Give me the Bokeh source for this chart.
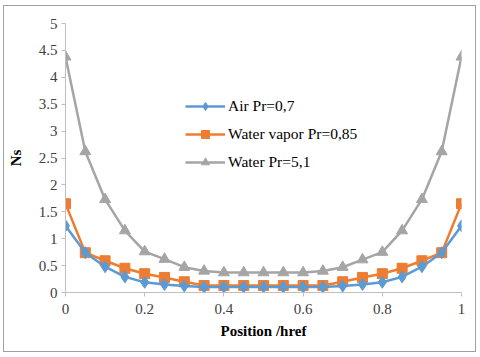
from bokeh.plotting import figure
from bokeh.embed import file_html
from bokeh.resources import INLINE
from bokeh.models import Legend, LegendItem, FixedTicker, Range1d

position = [0.0, 0.05, 0.1, 0.15, 0.2, 0.25, 0.3, 0.35, 0.4, 0.45, 0.5,
            0.55, 0.6, 0.65, 0.7, 0.75, 0.8, 0.85, 0.9, 0.95, 1.0]
air = [1.24, 0.74, 0.48, 0.29, 0.19, 0.15, 0.12, 0.10, 0.10, 0.10, 0.10,
       0.10, 0.10, 0.10, 0.12, 0.15, 0.19, 0.29, 0.48, 0.74, 1.24]
vapor = [1.65, 0.74, 0.59, 0.45, 0.35, 0.28, 0.20, 0.13, 0.13, 0.13, 0.13,
         0.13, 0.13, 0.13, 0.20, 0.28, 0.35, 0.45, 0.59, 0.74, 1.65]
water = [4.38, 2.62, 1.73, 1.15, 0.76, 0.62, 0.47, 0.40, 0.37, 0.37, 0.37,
         0.37, 0.37, 0.40, 0.47, 0.61, 0.75, 1.15, 1.73, 2.62, 4.38]
labels = ["Air Pr=0,7", "Water vapor Pr=0,85", "Water Pr=5,1"]
x_ticks = [0, 0.2, 0.4, 0.6, 0.8, 1]
y_ticks = [0, 0.5, 1, 1.5, 2, 2.5, 3, 3.5, 4, 4.5, 5]

FONT = "Liberation Serif"

p = figure(width=473, height=347, output_backend="svg", toolbar_location=None,
           x_range=Range1d(0, 1), y_range=Range1d(0, 5),
           min_border_left=61, min_border_right=16, min_border_top=17,
           min_border_bottom=61)
p.styles = {"border": "1px solid #a0a0a0", "margin-left": "3px", "margin-top": "5px"}
p.outline_line_color = None
p.xgrid.grid_line_color = None
p.ygrid.grid_line_color = None

p.xaxis.ticker = FixedTicker(ticks=x_ticks)
p.yaxis.ticker = FixedTicker(ticks=y_ticks)
for ax in (p.xaxis[0], p.yaxis[0]):
    ax.axis_line_color = "#bfbfbf"
    ax.axis_line_width = 1
    ax.major_label_text_font = FONT
    ax.major_label_text_font_size = "15px"
    ax.major_label_text_color = "#404040"
    ax.minor_tick_line_color = None
    ax.major_tick_line_color = "#bfbfbf"
    ax.major_tick_out = 4
    ax.major_tick_in = 0
    ax.axis_label_text_font = FONT
    ax.axis_label_text_font_size = "15px"
    ax.axis_label_text_font_style = "bold"
    ax.axis_label_text_color = "#000000"
p.xaxis.major_label_standoff = 7
p.yaxis.major_label_standoff = 4
p.xaxis.axis_label = "Position /href"
p.yaxis.axis_label = "Ns"
p.xaxis.axis_label_standoff = 6
p.yaxis.axis_label_standoff = 12

c_air, c_vap, c_wat = "#5B9BD5", "#ED7D31", "#A5A5A5"

l3 = p.line(position, water, line_color=c_wat, line_width=2.5)
m3 = p.scatter(position, water, marker="triangle", size=11, fill_color=c_wat, line_color=c_wat)
l2 = p.line(position, vapor, line_color=c_vap, line_width=2.5)
m2 = p.scatter(position, vapor, marker="square", size=10, fill_color=c_vap, line_color=c_vap)
l1 = p.line(position, air, line_color=c_air, line_width=2.5)
m1 = p.scatter(position, air, marker="diamond", size=12, fill_color=c_air, line_color=c_air)

legend = Legend(items=[LegendItem(label=labels[0], renderers=[l1, m1]),
                       LegendItem(label=labels[1], renderers=[l2, m2]),
                       LegendItem(label=labels[2], renderers=[l3, m3])],
                location=(120, 120), padding=0, margin=0, spacing=8,
                glyph_width=40, glyph_height=20, label_height=20,
                label_standoff=3, border_line_color=None,
                background_fill_alpha=0,
                label_text_font=FONT, label_text_font_size="15.5px",
                label_text_color="#000000")
p.add_layout(legend, "center")

open("out.html", "w").write(file_html(p, INLINE))
